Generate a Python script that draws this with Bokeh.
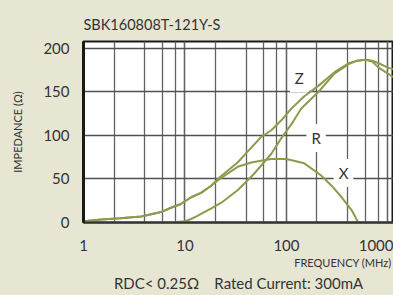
from bokeh.plotting import figure
from bokeh.models import Label, LogTicker, FixedTicker, NumeralTickFormatter, Range1d, Title
from bokeh.embed import file_html
from bokeh.resources import INLINE
from bokeh.core.templates import get_env

# ---- data (frequency in MHz, impedance in ohm) ----
freq_z = [1, 1.5, 2.3, 3.7, 5.8, 7.3, 9, 11.5, 14.4, 18, 22, 33, 45, 56, 71, 90,
          112, 150, 206, 300, 410, 500, 600, 700, 810, 1000, 1135]
z_vals = [1.5, 3.5, 5, 7, 12, 17, 21, 29, 34, 42, 52, 69, 86, 98, 106, 118,
          131, 145, 157, 173, 183, 186, 187, 186, 183, 178, 176]

freq_x = [1, 1.5, 2.3, 3.7, 5.8, 7.3, 9, 11.5, 14.4, 18, 22, 33, 45, 56, 71, 100,
          150, 220, 280, 350, 440, 510]
x_vals = [1.5, 3.5, 5, 7, 12, 17, 21, 29, 34, 42, 50, 64, 69, 71, 73, 73,
          68, 54, 42, 29, 14, 0]

freq_r = [8, 10, 11.5, 13, 15, 18, 23, 33, 48, 71, 89, 112, 140, 206, 297, 410,
          500, 600, 700, 810, 1000, 1135]
r_vals = [0.5, 1.5, 4, 7, 11, 16, 23, 37, 56, 79, 97, 113, 131, 150, 171, 182,
          186, 187, 185, 178, 171, 167]

curve_names = ["Z", "R", "X"]
curve_label_freq = [134, 196, 365]
curve_label_imp = [166, 97, 57]

y_ticks = [0, 50, 100, 150, 200]

title_text = "SBK160808T-121Y-S"
y_title = "IMPEDANCE (\u03a9)"
x_title = "FREQUENCY (MHz)"
note_text = "RDC< 0.25\u03a9\u00a0\u00a0\u00a0\u00a0Rated Current: 300mA"

BG = "#e6e6d3"
LINE = "#8e9a4e"
GRID = "#626262"
TXT = "#333333"
FONT = "Lato"

p = figure(width=393, height=295, x_axis_type="log",
           x_range=Range1d(1, 1135), y_range=Range1d(0, 208),
           output_backend="svg", toolbar_location=None,
           min_border_left=83, min_border_right=0,
           min_border_top=41, min_border_bottom=73)
p.background_fill_color = "white"
p.border_fill_color = BG
p.outline_line_color = "#1a1a1a"
p.outline_line_width = 2

# grids
p.xgrid.ticker = LogTicker()
p.xgrid.grid_line_color = GRID
p.xgrid.grid_line_width = 1.3
p.xgrid.minor_grid_line_color = GRID
p.xgrid.minor_grid_line_width = 1.3
p.ygrid.ticker = FixedTicker(ticks=y_ticks)
p.ygrid.grid_line_color = "#505050"
p.ygrid.grid_line_width = 1.5

# axes
xa = p.xaxis[0]
xa.ticker = LogTicker()
xa.formatter = NumeralTickFormatter(format="0")
xa.major_tick_line_color = None
xa.minor_tick_line_color = None
xa.axis_line_color = "#333333"
xa.axis_line_width = 2
xa.major_label_standoff = 11
xa.major_label_text_font = FONT
xa.major_label_text_font_size = "15px"
xa.major_label_text_color = TXT

ya = p.yaxis[0]
ya.ticker = FixedTicker(ticks=y_ticks)
ya.major_tick_line_color = None
ya.minor_tick_line_color = None
ya.axis_line_color = "#1a1a1a"
ya.axis_line_width = 3
ya.major_label_standoff = 8
ya.major_label_text_font = FONT
ya.major_label_text_font_size = "15px"
ya.major_label_text_color = TXT
ya.axis_label = y_title
ya.axis_label_standoff = 16
ya.axis_label_text_font = FONT
ya.axis_label_text_font_size = "11px"
ya.axis_label_text_font_style = "normal"
ya.axis_label_text_color = TXT

# curves
p.line(freq_z, z_vals, line_color=LINE, line_width=2)
p.line(freq_x, x_vals, line_color=LINE, line_width=2)
p.line(freq_r, r_vals, line_color=LINE, line_width=2)

for name, fx, fy in zip(curve_names, curve_label_freq, curve_label_imp):
    p.add_layout(Label(x=fx, y=fy, text=name, text_align="center",
                       text_baseline="middle", text_font=FONT,
                       text_font_size="15px", text_color=TXT,
                       background_fill_color="white", padding=5))

# titles
p.add_layout(Title(text=title_text, align="left", vertical_align="middle",
                   text_font=FONT, text_font_size="14.5px",
                   text_font_style="normal", text_color=TXT, standoff=15), "above")
p.add_layout(Title(text=x_title, align="right", text_font=FONT,
                   text_font_size="11px", text_font_style="normal",
                   text_color=TXT, standoff=0, offset=2), "below")
p.add_layout(Title(text=note_text, align="center", text_font=FONT,
                   text_font_size="15px", text_font_style="normal",
                   text_color=TXT, standoff=6), "below")

tmpl = get_env().from_string(
    "{% extends base %}{% block postamble %}<style>html,body{background:"
    + BG + ";}</style>{% endblock %}")

open("out.html", "w").write(file_html(p, INLINE, template=tmpl))
